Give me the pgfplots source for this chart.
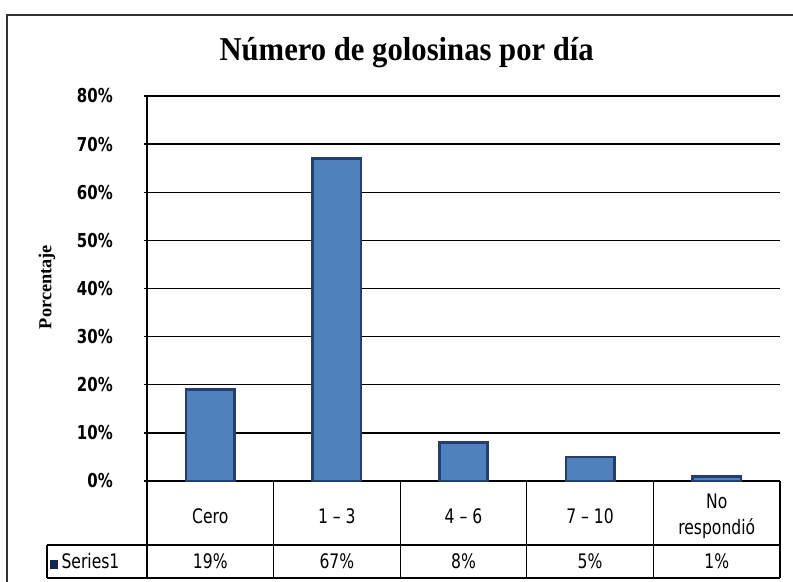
\documentclass[border=0pt]{standalone}
\usepackage{pgfplots}
\pgfplotsset{compat=1.18}
\usepackage{fontspec}
\setmainfont{Liberation Serif}
\newfontfamily\titlefont[FakeStretch=0.92]{Liberation Serif}
\newfontfamily\tabfont[FakeStretch=0.78]{DejaVu Sans}
\definecolor{barfill}{RGB}{79,129,189}
\definecolor{baredge}{RGB}{36,62,115}
\definecolor{keycol}{RGB}{22,35,85}
\begin{document}
\begin{tikzpicture}
\path[use as bounding box, clip] (0,0) rectangle (475.8pt,348.6pt);
\fill[white] (0,0) rectangle (475.8pt,348.6pt);
\draw[line width=0.9pt, black!80] (4.2pt,-10pt) -- (4.2pt,339.6pt) -- (490pt,339.6pt);
\node[font=\titlefont\bfseries\fontsize{20}{22}\selectfont] at (244pt,317pt) {Número de golosinas por día};
\node[rotate=90, font=\bfseries\fontsize{11}{13}\selectfont] at (28.2pt,176.4pt) {Porcentaje};
\begin{axis}[
  at={(88.2pt,60pt)}, anchor=south west,
  scale only axis, width=379.8pt, height=231pt,
  xmin=-0.5, xmax=4.5, ymin=0, ymax=80,
  ybar, bar width=29pt,
  axis lines*=left,
  axis line style={black, line width=0.8pt},
  ytick={0,10,...,80},
  ymajorgrids, grid style={black, line width=0.8pt},
  tick align=outside, major tick length=2pt,
  ytick style={black, line width=0.8pt},
  /pgf/number format/assume math mode=true,
  yticklabel={\pgfmathprintnumber{\tick}\%},
  yticklabel style={font=\tabfont\bfseries\fontsize{11.5}{13}\selectfont, xshift=-15pt},
  xtick={0,...,4},
  xticklabels={Cero, 1 – 3, 4 – 6, 7 – 10, {No\\respondió}},
  xtick style={draw=none},
  xticklabel style={anchor=center, yshift=-19.2pt, align=center,
    font=\tabfont\fontsize{12}{15.5}\selectfont},
  clip=false,
]
\addplot[fill=barfill, draw=baredge, line width=1.6pt]
  coordinates {(0,19) (1,67) (2,8) (3,5) (4,1)};
% data table below the axis
\draw[line width=0.8pt] (axis cs:-1.29,-13.3) -- (axis cs:4.5,-13.3);
\draw[line width=0.8pt] (axis cs:-1.29,-20.16) -- (axis cs:4.5,-20.16);
\draw[line width=0.8pt] (axis cs:-1.29,-13.3) -- (axis cs:-1.29,-20.16);
\pgfplotsinvokeforeach{-0.5,0.5,1.5,2.5,3.5,4.5}{
  \draw[line width=0.8pt] (axis cs:#1,0) -- (axis cs:#1,-20.16);
}
\node[anchor=west, font=\tabfont\fontsize{12}{13}\selectfont, inner sep=0pt]
  at (axis cs:-1.27,-16.73) {\textcolor{keycol}{\rule{5pt}{5.5pt}}\,Series1};
\node[font=\tabfont\fontsize{12}{13}\selectfont] at (axis cs:0,-16.73) {19\%};
\node[font=\tabfont\fontsize{12}{13}\selectfont] at (axis cs:1,-16.73) {67\%};
\node[font=\tabfont\fontsize{12}{13}\selectfont] at (axis cs:2,-16.73) {8\%};
\node[font=\tabfont\fontsize{12}{13}\selectfont] at (axis cs:3,-16.73) {5\%};
\node[font=\tabfont\fontsize{12}{13}\selectfont] at (axis cs:4,-16.73) {1\%};
\end{axis}
\end{tikzpicture}
\end{document}
